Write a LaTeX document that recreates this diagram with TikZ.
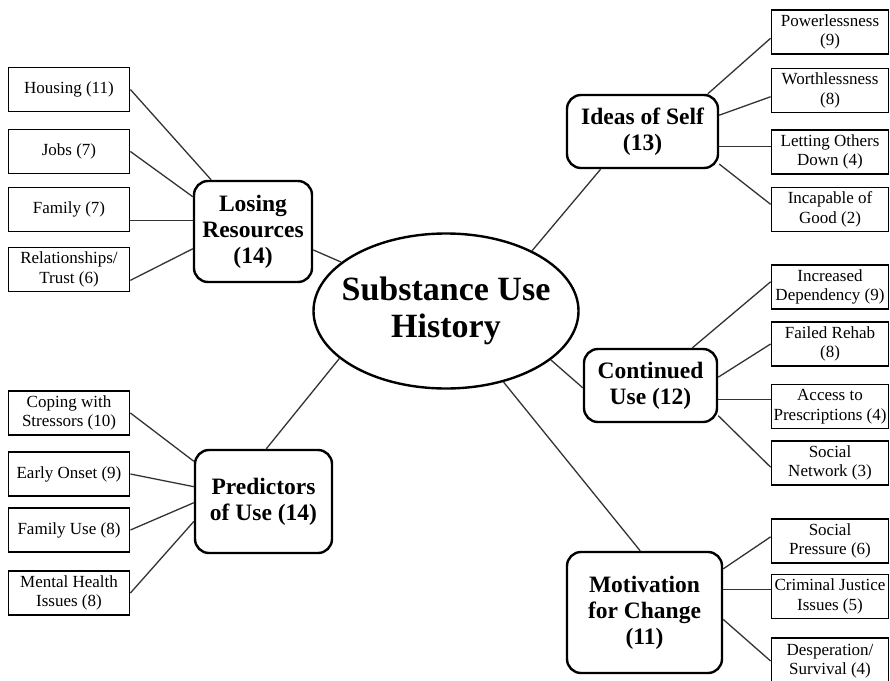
\documentclass[tikz,border=0pt]{standalone}
\usepackage{fontspec}
\setmainfont{Liberation Serif}
\usetikzlibrary{shapes.geometric}
\begin{document}
\begin{tikzpicture}[x=1pt,y=-1pt,
  leaf/.style={draw, line width=1.8pt, inner sep=0pt, align=center,
    font=\fontsize{17}{19.5}\selectfont, minimum height=44pt},
  lleaf/.style={leaf, minimum width=121pt},
  rleaf/.style={leaf, minimum width=117pt},
  mid/.style={draw, line width=2.4pt, rounded corners=14pt, inner sep=0pt, align=center,
    font=\fontsize{23.5}{26}\selectfont\bfseries},
  hub/.style={draw, ellipse, line width=2.4pt, inner xsep=-20pt, inner ysep=0pt, align=center,
    minimum width=265pt, minimum height=155pt, font=\fontsize{34}{37}\selectfont\bfseries},
  link/.style={draw=black!80, line width=1.3pt}]
\useasboundingbox (0,0) rectangle (890,680);
\fill[white] (0,0) rectangle (890,680);

% hub
\node[hub] (hub) at (446,311) {Substance Use\\History};

% mid nodes
\node[mid, minimum width=118pt, minimum height=101pt] (lose) at (253,231.5) {Losing\\Resources\\(14)};
\node[mid, minimum width=137pt, minimum height=103pt] (pred) at (263.5,501.5) {Predictors\\of Use (14)};
\node[mid, minimum width=151pt, minimum height=73pt] (ideas) at (642.5,131.5) {Ideas of Self\\(13)};
\node[mid, minimum width=133pt, minimum height=73pt] (cont) at (650.5,385.5) {Continued\\Use (12)};
\node[mid, minimum width=155pt, minimum height=121pt] (moti) at (644.5,612.5) {Motivation\\for Change\\(11)};

% left leaves
\node[lleaf] (housing) at (69,89.5) {Housing (11)};
\node[lleaf] (jobs) at (69,151.5) {Jobs (7)};
\node[lleaf] (family) at (69,209.5) {Family (7)};
\node[lleaf] (relat) at (69,269.5) {Relationships/\\Trust (6)};

\node[lleaf] (coping) at (69,413) {Coping with\\Stressors (10)};
\node[lleaf] (early) at (69,474) {Early Onset (9)};
\node[lleaf] (famuse) at (69,530) {Family Use (8)};
\node[lleaf] (mental) at (69,593) {Mental Health\\Issues (8)};

% right leaves
\node[rleaf] (power) at (830,32) {Powerlessness\\(9)};
\node[rleaf] (worth) at (830,90.5) {Worthlessness\\(8)};
\node[rleaf] (letting) at (830,152) {Letting Others\\Down (4)};
\node[rleaf] (incap) at (830,209.5) {Incapable of\\Good (2)};

\node[rleaf] (incr) at (830,287) {Increased\\Dependency (9)};
\node[rleaf] (failed) at (830,344) {Failed Rehab\\(8)};
\node[rleaf] (access) at (830,406.5) {Access to\\Prescriptions (4)};
\node[rleaf] (socnet) at (830,463) {Social\\Network (3)};

\node[rleaf] (socpres) at (830,541) {Social\\Pressure (6)};
\node[rleaf] (crim) at (830,596.5) {Criminal Justice\\Issues (5)};
\node[rleaf, minimum height=46pt] (desp) at (830,661) {Desperation/\\Survival (4)};

% hub links
\draw[link] (lose.-17) -- (hub.155.6);
\draw[link] (pred.87) -- (hub.204.8);
\draw[link] (ideas.222) -- (hub.35.3);
\draw[link] (cont.182) -- (hub.-25);
\draw[link] (moti.94) -- (hub.-51.4);

% losing resources
\draw[link] (housing.east) -- (lose.129);
\draw[link] (jobs.east) -- (lose.150);
\draw[link] (family.-10) -- (family.-10 -| lose.west);
\draw[link] (relat.-10) -- (lose.196.5);

% predictors
\draw[link] (coping.east) -- (pred.150.7);
\draw[link] (early.east) -- (pred.168);
\draw[link] (famuse.east) -- (pred.181);
\draw[link] (mental.east) -- (pred.196.7);

% ideas of self
\draw[link] (power.186) -- (ideas.30);
\draw[link] (worth.186) -- (ideas.12.3);
\draw[link] (letting.175) -- (letting.175 -| ideas.east);
\draw[link] (incap.175.6) -- (ideas.-23.2);

% continued use
\draw[link] (incr.175) -- (cont.42.7);
\draw[link] (failed.west) -- (cont.7.3);
\draw[link] (access.173.5) -- (access.173.5 -| cont.east);
\draw[link] (socnet.184) -- (cont.-24);

% motivation
\draw[link] (socpres.176) -- (moti.29.9);
\draw[link] (crim.173) -- (crim.173 -| moti.east);
\draw[link] (desp.west) -- (moti.-5.5);
\end{tikzpicture}
\end{document}
